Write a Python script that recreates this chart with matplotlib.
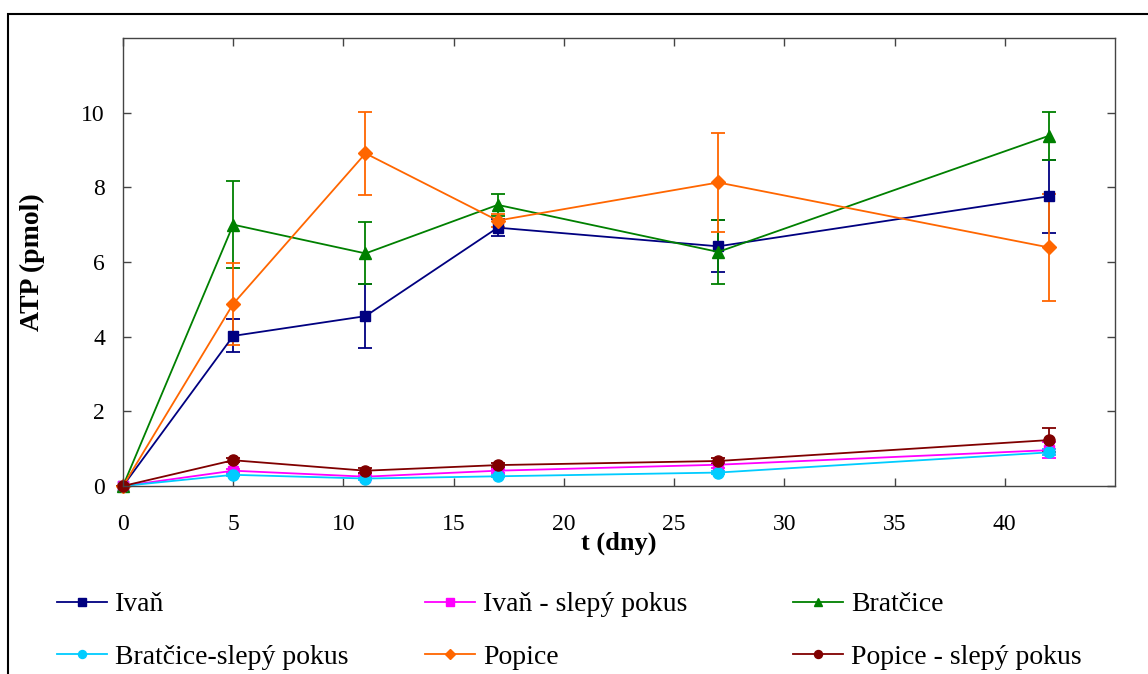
import matplotlib
matplotlib.use("Agg")
import matplotlib.pyplot as plt
from matplotlib.patches import Rectangle
from matplotlib.lines import Line2D

plt.rcParams['font.family'] = ['Liberation Serif', 'DejaVu Serif']

t = [0, 5, 11, 17, 27, 42]

ivan = [0, 4.02, 4.55, 6.92, 6.42, 7.76]
ivan_err = [0, 0.44, 0.85, 0.22, 0.70, 0.97]
ivan_blank = [0, 0.41, 0.25, 0.41, 0.57, 0.96]
ivan_blank_err = [0, 0.05, 0.04, 0.05, 0.08, 0.21]
bratcice = [0, 7.00, 6.23, 7.53, 6.27, 9.38]
bratcice_err = [0, 1.16, 0.83, 0.30, 0.85, 0.65]
bratcice_blank = [0, 0.30, 0.20, 0.26, 0.36, 0.90]
bratcice_blank_err = [0, 0.03, 0.03, 0.03, 0.04, 0.08]
popice = [0, 4.88, 8.91, 7.11, 8.13, 6.39]
popice_err = [0, 1.10, 1.12, 0.18, 1.32, 1.43]
popice_blank = [0, 0.69, 0.41, 0.56, 0.67, 1.23]
popice_blank_err = [0, 0.05, 0.07, 0.05, 0.09, 0.33]

labels = ["Ivaň", "Ivaň - slepý pokus", "Bratčice",
          "Bratčice-slepý pokus", "Popice", "Popice - slepý pokus"]
colors = ["#000080", "#FF00FF", "#008000", "#00CCFF", "#FF6600", "#800000"]
markers = ["s", "s", "^", "o", "D", "o"]
msizes = [7.5, 7.5, 8.5, 8, 7, 8]

series = [(ivan, ivan_err), (ivan_blank, ivan_blank_err),
          (bratcice, bratcice_err), (bratcice_blank, bratcice_blank_err),
          (popice, popice_err), (popice_blank, popice_blank_err)]

fig = plt.figure(figsize=(11.48, 6.74), dpi=100)
ax = fig.add_axes([123/1148, 1-486/674, (1115-123)/1148, (486-38)/674])

handles = []
for (y, e), lab, c, m, ms in zip(series, labels, colors, markers, msizes):
    ax.errorbar(t, y, yerr=e, color=c, marker=m, markersize=ms, lw=1.3,
                capsize=5, capthick=1.3, elinewidth=1.3, clip_on=False)
    handles.append(Line2D([], [], color=c, marker=m, markersize=ms*0.72, lw=1.3))

ax.set_xlim(0, 45)
ax.set_ylim(0, 12)
ax.set_xticks(range(0, 41, 5))
ax.set_yticks(range(0, 11, 2))
for s in ax.spines.values():
    s.set_color('#444444')
    s.set_linewidth(1.0)
ax.tick_params(direction='in', length=5.5, width=1, color='#444444',
               top=True, right=True, labelsize=17)
ax.tick_params(axis='x', pad=20)
ax.tick_params(axis='y', pad=13)

ax.set_xlabel("t (dny)", fontsize=19, fontweight='bold')
ax.xaxis.set_label_coords(0.5, -0.102)
ax.set_ylabel("ATP (pmol)", fontsize=20, fontweight='bold')
ax.yaxis.set_label_coords(-0.079, 0.5)

# legend in three columns placed manually
col_x = [57, 425, 793]
cols = [[0, 3], [1, 4], [2, 5]]
for x, idx in zip(col_x, cols):
    fig.legend([handles[i] for i in idx], [labels[i] for i in idx],
               loc='upper left', bbox_to_anchor=(x/1148, 1-592/674),
               frameon=False, fontsize=20, borderpad=0, borderaxespad=0,
               handlelength=1.8, handletextpad=0.3, labelspacing=0.98)

# outer frame
fig.patches.append(Rectangle((8/1148, -0.1), 1.2, 1-14/674+0.1,
                             transform=fig.transFigure, fill=False,
                             edgecolor='black', lw=1.5))

fig.savefig("out.png", dpi=100)
